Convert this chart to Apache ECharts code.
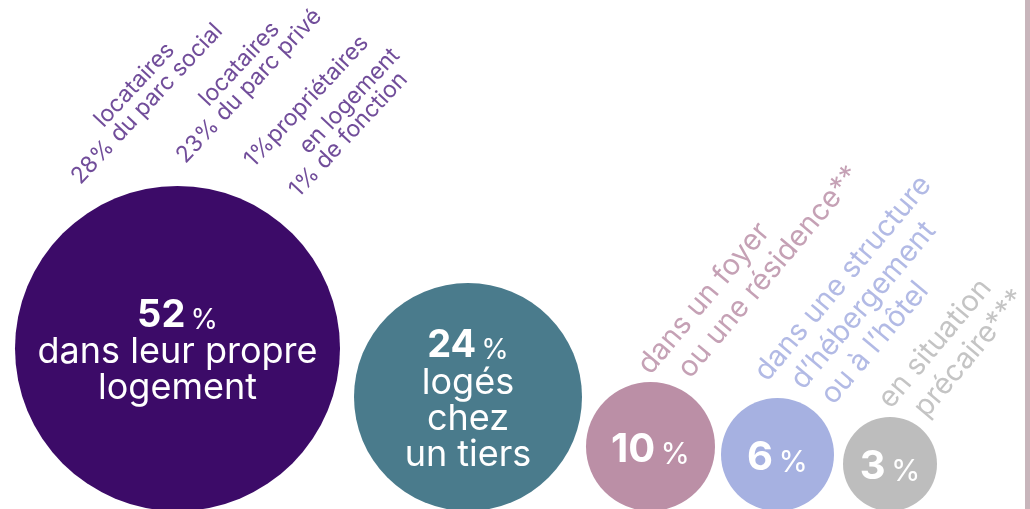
<!DOCTYPE html>
<html><head><meta charset="utf-8">
<style>html,body{margin:0;padding:0;background:#fff}#c{width:1030px;height:509px}</style>
<script src="https://cdn.jsdelivr.net/npm/echarts@6/dist/echarts.min.js"></script>
</head><body><div id="c"></div>
<script>
// ---------------- DATA ----------------
const categories = ['dans leur propre logement', 'logés chez un tiers', 'dans un foyer ou une résidence**', 'dans une structure d’hébergement ou à l’hôtel', 'en situation précaire***'];
const shares = [52, 24, 10, 6, 3];
const innerCaptions = [['dans leur propre', 'logement'], ['logés', 'chez', 'un tiers'], [], [], []];
const outerCaptions = [[], [], ['dans un foyer', 'ou une résidence**'], ['dans une structure', 'd’hébergement', 'ou à l’hôtel'], ['en situation', 'précaire***']];
const subShares = [28, 23, 1, 1];
const subCaptions = [['locataires', 'du parc social'], ['locataires', 'du parc privé'], ['propriétaires'], ['en logement', 'de fonction']];

// ---------------- LAYOUT / STYLE ----------------
const FONT = 'Inter';
const COLORS = ['#3c0b68', '#4a7b8c', '#bb8fa6', '#a6b1e1', '#bdbdbd'];
const TEXT_COLORS = ['#4e2181', '#4e2181', '#b68aa2', '#9fa9de', '#b5b5b5'];
const DIAM = [325, 228, 129, 113, 94];
const GAPS = [14, 4, 6, 9];
const LEFT = 15, BASELINE = 511;
const NUM_FS = [38, 38, 40, 40, 40];
const SUB_FS = 23, SUB_LH = 22, OUT_FS = 29, OUT_LH = 33;
// caption anchors relative to the parent bubble's top-centre
const SUB_OFFSET = [[-94, 2], [11, -19], [79, -15], [124, 15]];
const OUTER_OFFSET = [null, null, [31, 20], [46, 32], [32, 19]];
const OUTER_INDENT = [null, null, [0, 23], [0, 17, 25], [0, 16]];

const cx = [];
let edge = LEFT;
DIAM.forEach((d, i) => { if (i > 0) edge += GAPS[i - 1]; cx.push(edge + d / 2); edge += d; });
const cy = DIAM.map(d => BASELINE - d / 2);
const top_ = DIAM.map(d => BASELINE - d);

const bubbleData = shares.map((v, i) => ({
  value: [cx[i], cy[i], v],
  name: categories[i],
  symbolSize: DIAM[i],
  itemStyle: { color: COLORS[i], opacity: 1 },
  label: {
    formatter: () => [`{n${i}|${v}}{p${i}|\u2009%}`].concat(innerCaptions[i].map(s => `{t|${s}}`)).join('\n')
  }
}));

const rich = { t: { fontFamily: FONT, fontSize: 36, lineHeight: 36, color: '#fff', align: 'center' } };
NUM_FS.forEach((fs, i) => {
  const Ln = fs + 6;
  rich['n' + i] = { fontFamily: FONT, fontWeight: 700, fontSize: fs, lineHeight: Ln, color: '#fff', verticalAlign: 'bottom' };
  const pf = Math.round(fs * 0.74);
  rich['p' + i] = { fontFamily: FONT, fontWeight: 400, fontSize: pf, lineHeight: Ln - 0.72 * (fs - pf), color: '#fff', verticalAlign: 'bottom' };
});

// sub captions of the first bubble
const subData = subShares.map((s, k) => {
  const lines = subCaptions[k];
  let txt;
  if (lines.length === 1) txt = `{s|${s}%${lines[0]}}`;
  else txt = `{h|${s}% }{s|${lines[0]}}\n{s|${s}% ${lines[1]}}`;
  return {
    value: [cx[0] + SUB_OFFSET[k][0], top_[0] + SUB_OFFSET[k][1]],
    label: { formatter: () => txt }
  };
});
const subRich = {
  s: { fontFamily: FONT, fontSize: SUB_FS, lineHeight: SUB_LH, color: TEXT_COLORS[0] },
  h: { fontFamily: FONT, fontSize: SUB_FS, lineHeight: SUB_LH, color: 'rgba(0,0,0,0)' }
};

// outer captions for the small bubbles
const outerRich = {};
const outerData = [];
outerCaptions.forEach((lines, i) => {
  if (!lines.length) return;
  const txt = lines.map((s, j) => {
    const ind = OUTER_INDENT[i][j];
    const key = 'i' + i + '_' + j;
    outerRich[key] = { fontSize: OUT_FS, lineHeight: OUT_LH, width: ind, color: 'rgba(0,0,0,0)' };
    return (ind > 0 ? `{${key}|\u00a0}` : '') + `{o${i}|${s}}`;
  }).join('\n');
  outerRich['o' + i] = { fontFamily: FONT, fontSize: OUT_FS, lineHeight: OUT_LH, color: TEXT_COLORS[i] };
  outerData.push({ value: [cx[i] + OUTER_OFFSET[i][0], top_[i] + OUTER_OFFSET[i][1]], label: { formatter: () => txt } });
});

const chart = echarts.init(document.getElementById('c'), null, { renderer: 'canvas' });
chart.setOption({
  animation: false,
  backgroundColor: '#fff',
  grid: { left: 0, right: 0, top: 0, bottom: 0 },
  xAxis: { type: 'value', min: 0, max: 1030, show: false },
  yAxis: { type: 'value', min: 0, max: 509, inverse: true, show: false },
  graphic: [{ type: 'rect', right: 0, top: 0, shape: { width: 5, height: 509 }, style: { fill: '#c8b5bb' } }],
  series: [
    {
      type: 'scatter', name: 'bubbles', symbol: 'circle', clip: false, silent: true,
      data: bubbleData,
      label: { show: true, position: 'inside', rich: rich }
    },
    {
      type: 'scatter', name: 'sub', symbolSize: 1, clip: false, silent: true,
      itemStyle: { color: 'rgba(0,0,0,0)' },
      data: subData,
      label: { show: true, position: 'inside', align: 'left', verticalAlign: 'bottom', rotate: 47, rich: subRich }
    },
    {
      type: 'scatter', name: 'outer', symbolSize: 1, clip: false, silent: true,
      itemStyle: { color: 'rgba(0,0,0,0)' },
      data: outerData,
      label: { show: true, position: 'inside', align: 'left', verticalAlign: 'bottom', rotate: 50, rich: outerRich }
    }
  ]
});
</script></body></html>
